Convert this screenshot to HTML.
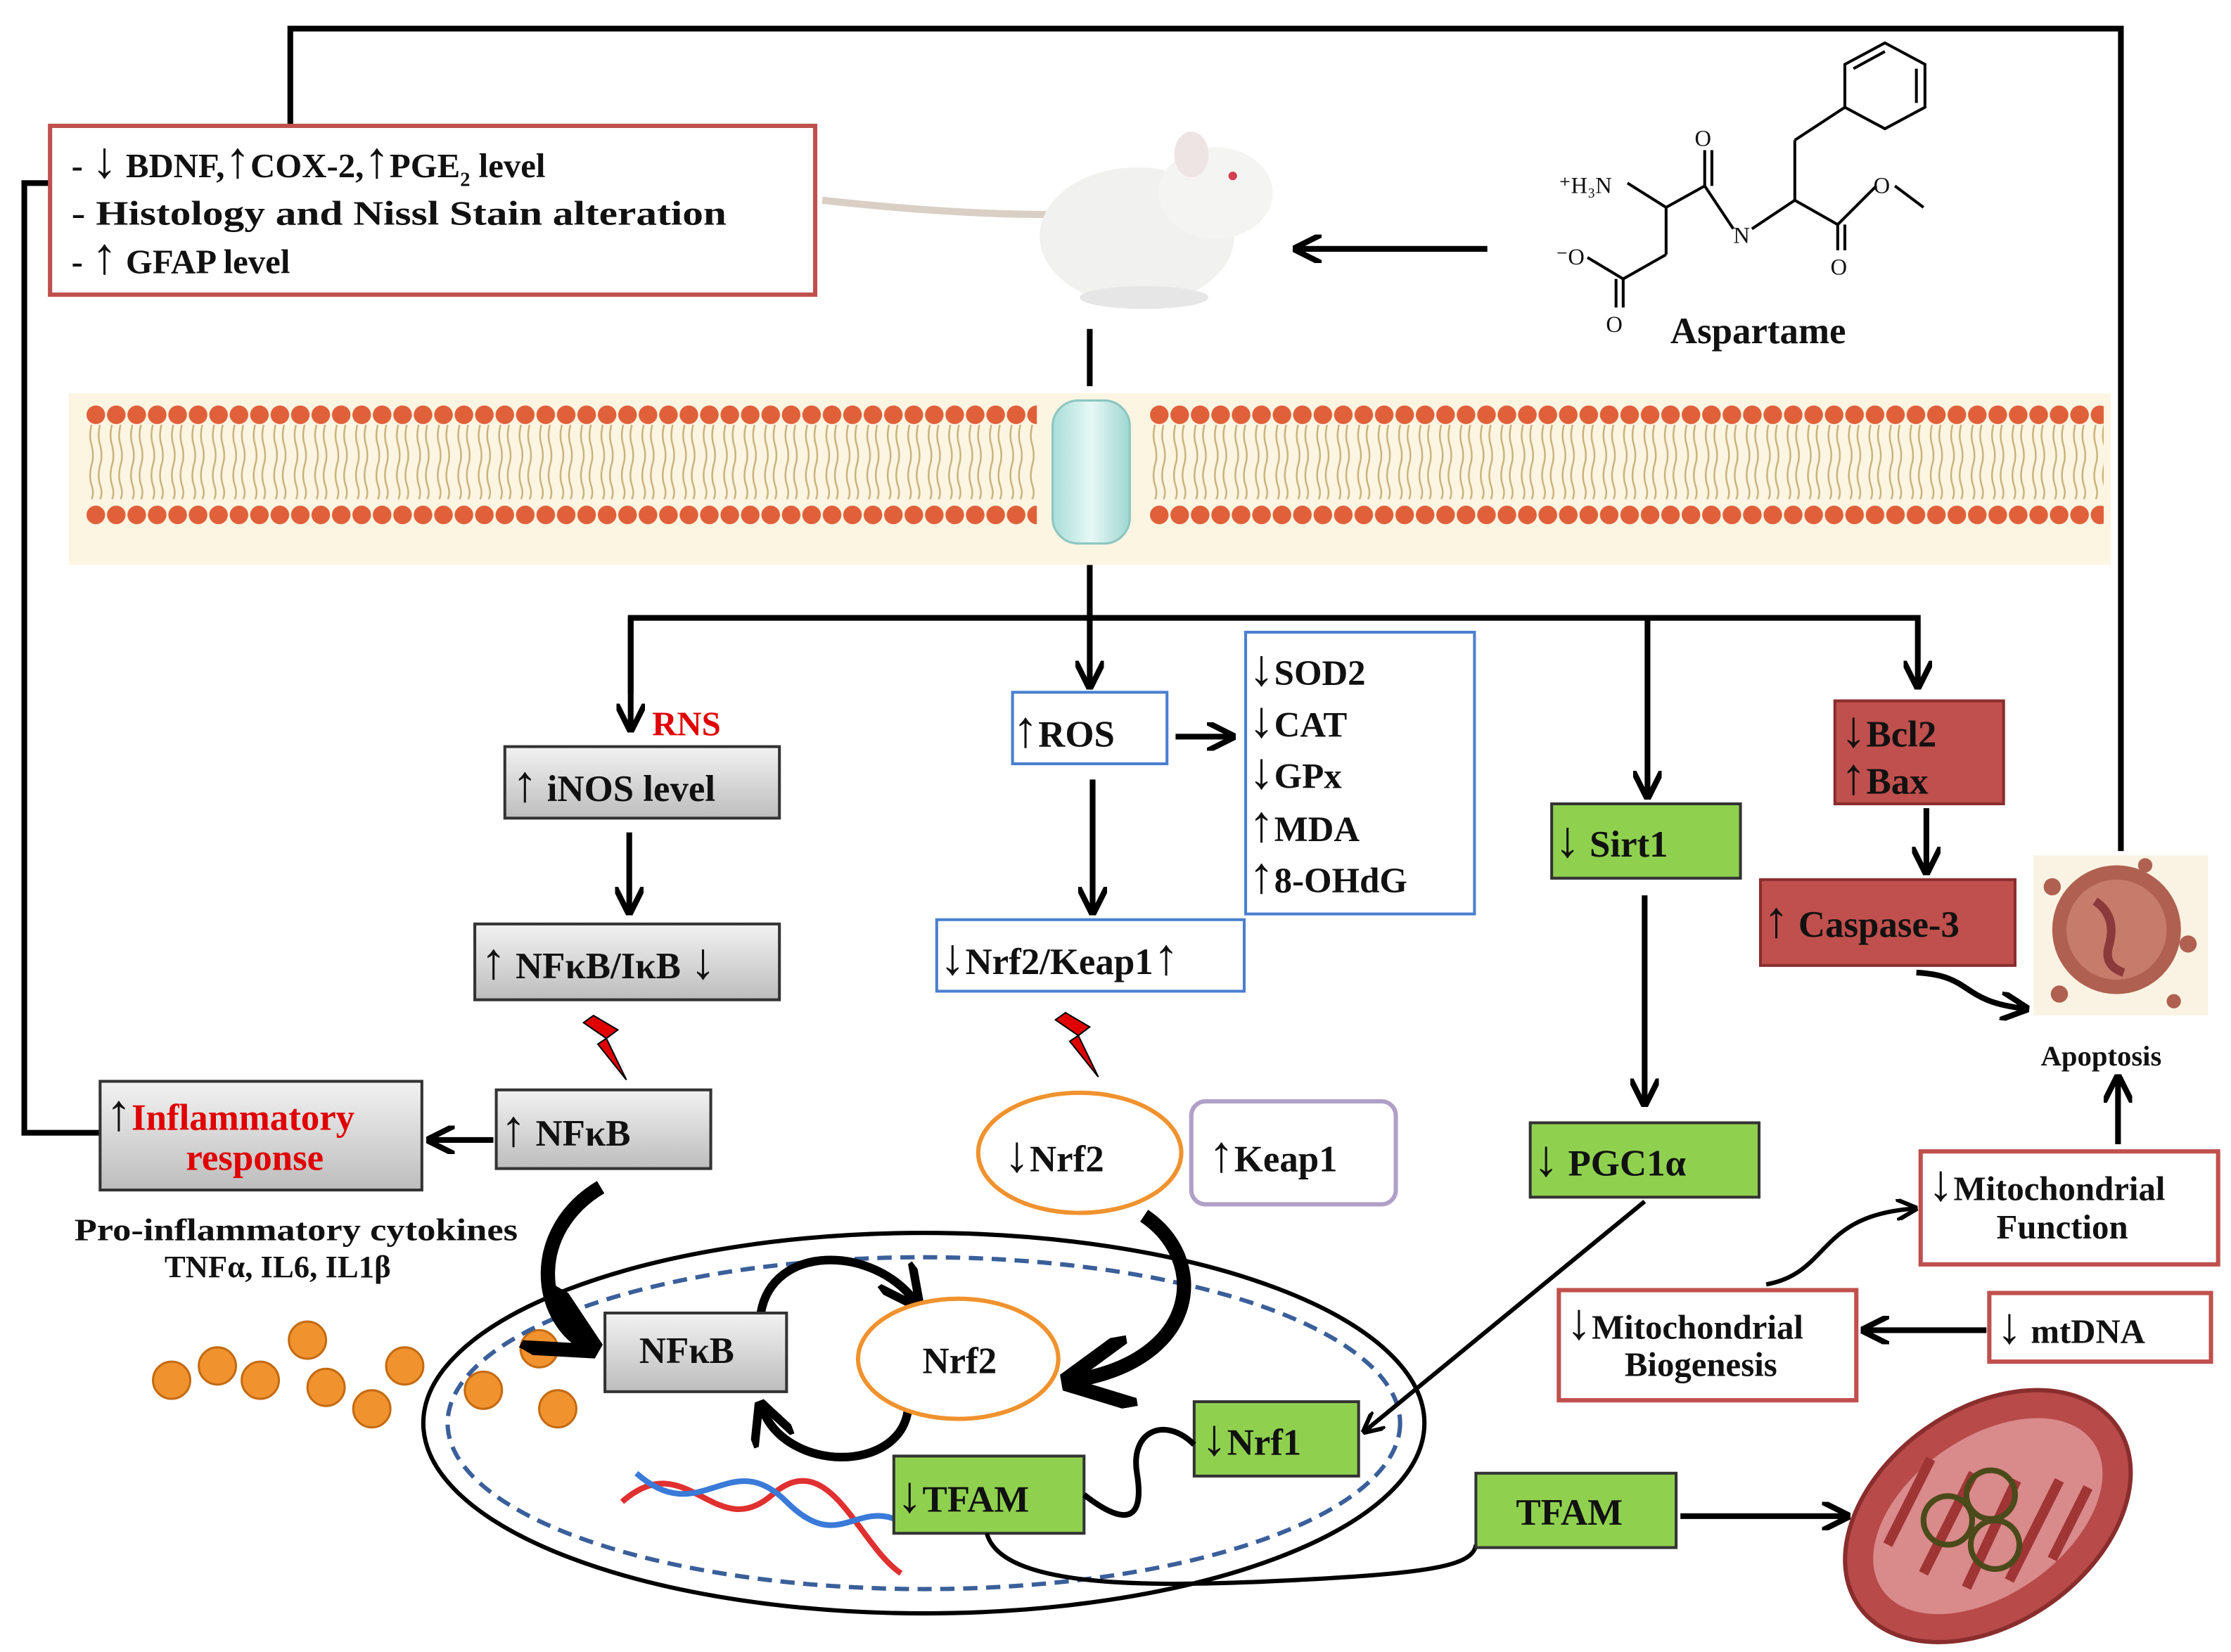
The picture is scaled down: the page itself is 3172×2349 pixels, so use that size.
<!DOCTYPE html>
<html><head><meta charset="utf-8"><style>
html,body{margin:0;padding:0;background:#fff}
svg{display:block}
text{font-family:"Liberation Serif",serif;font-weight:bold;fill:#111}
.a{font-size:36px;font-weight:normal}
</style></head><body>
<svg width="3172" height="2349" viewBox="0 0 1560 1155" preserveAspectRatio="none" xmlns="http://www.w3.org/2000/svg">
<defs>
<marker id="ah" viewBox="0 0 10 10" refX="8" refY="5" markerWidth="5" markerHeight="5" orient="auto"><path d="M0,0 L10,5 L0,10" fill="none" stroke="#000" stroke-width="2"/></marker>
<linearGradient id="gray" x1="0" y1="0" x2="0" y2="1"><stop offset="0" stop-color="#f2f2f2"/><stop offset="1" stop-color="#bdbdbd"/></linearGradient>
<linearGradient id="chan" x1="0" y1="0" x2="1" y2="0"><stop offset="0" stop-color="#a8ddd8"/><stop offset="0.5" stop-color="#e6f8f6"/><stop offset="1" stop-color="#9fd6d1"/></linearGradient>
<pattern id="heads" x="60" y="280" width="14.3" height="90" patternUnits="userSpaceOnUse">
<circle cx="7" cy="10" r="6.5" fill="#e0603a"/>
<path d="M4,17 q-2,8 0,14 q2,8 0,14 q-2,8 0,14 q2,6 0,10 M10,17 q-2,8 0,14 q2,8 0,14 q-2,8 0,14 q2,6 0,10" stroke="#c8b27a" stroke-width="1.2" fill="none"/>
<circle cx="7" cy="80" r="6.5" fill="#e0603a"/>
</pattern>
</defs>

<polyline points="203,88 203,20 1483,20 1483,595" fill="none" stroke="#000" stroke-width="4"/>
<polyline points="35,128 17,128 17,792 70,792" fill="none" stroke="#000" stroke-width="4"/>

<rect x="35" y="88" width="535" height="118" fill="#fff" stroke="#c0504d" stroke-width="3"/>
<text x="50" y="124" font-size="24">-  <tspan class="a">↓</tspan> BDNF,<tspan class="a">↑</tspan>COX-2,<tspan class="a">↑</tspan>PGE<tspan font-size="14" dy="6">2</tspan><tspan dy="-6"> level</tspan></text>
<text x="50" y="157" font-size="24" textLength="458" lengthAdjust="spacingAndGlyphs">-  Histology and Nissl Stain alteration</text>
<text x="50" y="191" font-size="24">-  <tspan class="a">↑</tspan> GFAP level</text>

<path d="M575,140 C620,145 680,150 735,150" stroke="#d9cfc4" stroke-width="5" fill="none"/>
<ellipse cx="795" cy="165" rx="68" ry="48" fill="#f1f1ef"/>
<ellipse cx="850" cy="135" rx="40" ry="32" fill="#f4f4f2"/>
<ellipse cx="833" cy="108" rx="12" ry="16" fill="#efe4e4"/>
<circle cx="862" cy="123" r="3" fill="#d04050"/>
<ellipse cx="800" cy="208" rx="45" ry="8" fill="#e6e6e6"/>

<line x1="1040" y1="174" x2="908" y2="174" stroke="#000" stroke-width="4" marker-end="url(#ah)"/>

<g stroke="#000" stroke-width="2" fill="none">
<polygon points="1290,45 1318,30 1346,45 1346,75 1318,90 1290,75"/>
<line x1="1296" y1="48" x2="1318" y2="36"/><line x1="1340" y1="48" x2="1340" y2="72"/>
<line x1="1290" y1="75" x2="1255" y2="98"/><line x1="1255" y1="98" x2="1255" y2="140"/>
<line x1="1255" y1="140" x2="1225" y2="160"/><line x1="1255" y1="140" x2="1285" y2="157"/>
<line x1="1285" y1="157" x2="1285" y2="175"/><line x1="1290" y1="157" x2="1290" y2="175"/>
<line x1="1285" y1="157" x2="1312" y2="130"/><line x1="1325" y1="130" x2="1345" y2="145"/>
<line x1="1212" y1="160" x2="1192" y2="130"/><line x1="1192" y1="130" x2="1192" y2="105"/><line x1="1197" y1="130" x2="1197" y2="105"/>
<line x1="1192" y1="130" x2="1165" y2="145"/><line x1="1165" y1="145" x2="1138" y2="128"/>
<line x1="1165" y1="145" x2="1165" y2="178"/><line x1="1165" y1="178" x2="1135" y2="195"/>
<line x1="1135" y1="195" x2="1110" y2="180"/><line x1="1135" y1="195" x2="1135" y2="215"/><line x1="1130" y1="195" x2="1130" y2="215"/>
</g>
<text x="1090" y="135" font-size="16" style="font-weight:normal">⁺H₃N</text>
<text x="1310" y="135" font-size="16" style="font-weight:normal">O</text>
<text x="1185" y="102" font-size="16" style="font-weight:normal">O</text>
<text x="1280" y="192" font-size="16" style="font-weight:normal">O</text>
<text x="1212" y="170" font-size="16" style="font-weight:normal">N</text>
<text x="1088" y="185" font-size="16" style="font-weight:normal">⁻O</text>
<text x="1123" y="232" font-size="16" style="font-weight:normal">O</text>
<text x="1168" y="240" font-size="26">Aspartame</text>

<rect x="48" y="275" width="1428" height="120" fill="#fbf5e2"/>
<rect x="60" y="280" width="665" height="90" fill="url(#heads)"/>
<rect x="803" y="280" width="668" height="90" fill="url(#heads)"/>
<rect x="736" y="280" width="54" height="100" rx="18" fill="url(#chan)" stroke="#8cc6c0" stroke-width="1.5"/>
<line x1="762" y1="230" x2="762" y2="270" stroke="#000" stroke-width="4"/>

<line x1="762" y1="395" x2="762" y2="478" stroke="#000" stroke-width="4" marker-end="url(#ah)"/>
<polyline points="441,485 441,432 1341,432 1341,478" fill="none" stroke="#000" stroke-width="4" marker-end="url(#ah)"/>
<line x1="441" y1="432" x2="441" y2="508" stroke="#000" stroke-width="4" marker-end="url(#ah)"/>
<line x1="1152" y1="432" x2="1152" y2="555" stroke="#000" stroke-width="4" marker-end="url(#ah)"/>

<text x="456" y="514" font-size="24" style="fill:#e00000">RNS</text>
<rect x="353" y="522" width="192" height="50" fill="url(#gray)" stroke="#333" stroke-width="2"/>
<text x="358" y="560" font-size="26"><tspan class="a">↑</tspan> iNOS level</text>
<line x1="440" y1="582" x2="440" y2="636" stroke="#000" stroke-width="4" marker-end="url(#ah)"/>
<rect x="332" y="646" width="213" height="53" fill="url(#gray)" stroke="#333" stroke-width="2"/>
<text x="336" y="684" font-size="26"><tspan class="a">↑</tspan> NFκB/IκB <tspan class="a">↓</tspan></text>
<polygon points="415,710 432,720 424,726 438,755 418,730 424,726 408,715" fill="#e00000" stroke="#000" stroke-width="1"/>
<rect x="347" y="762" width="150" height="55" fill="url(#gray)" stroke="#333" stroke-width="2"/>
<text x="350" y="801" font-size="26"><tspan class="a">↑</tspan> NFκB</text>
<line x1="345" y1="797" x2="302" y2="797" stroke="#000" stroke-width="4" marker-end="url(#ah)"/>
<rect x="70" y="756" width="225" height="76" fill="url(#gray)" stroke="#333" stroke-width="2"/>
<text x="74" y="790" font-size="26"><tspan class="a">↑</tspan><tspan style="fill:#e00000">Inflammatory</tspan></text>
<text x="130" y="818" font-size="26" style="fill:#e00000">response</text>
<text x="52" y="867" font-size="22" textLength="310" lengthAdjust="spacingAndGlyphs">Pro-inflammatory  cytokines</text>
<text x="115" y="893" font-size="22">TNFα, IL6, IL1β</text>

<g fill="#f0922e" stroke="#c46a10" stroke-width="1.5">
<circle cx="120" cy="965" r="13"/><circle cx="152" cy="955" r="13"/><circle cx="182" cy="965" r="13"/><circle cx="215" cy="937" r="13"/>
<circle cx="228" cy="970" r="13"/><circle cx="260" cy="985" r="13"/><circle cx="283" cy="955" r="13"/><circle cx="338" cy="972" r="13"/>
<circle cx="377" cy="943" r="13"/><circle cx="390" cy="985" r="13"/>
</g>

<ellipse cx="646" cy="995" rx="350" ry="133" fill="none" stroke="#000" stroke-width="3"/>
<ellipse cx="646" cy="995" rx="333" ry="116" fill="none" stroke="#3a5f9a" stroke-width="3" stroke-dasharray="10,6"/>

<path d="M420,830 C370,860 375,920 410,940" fill="none" stroke="#000" stroke-width="10" marker-end="url(#ah)"/>
<path d="M800,850 C845,880 840,950 752,965" fill="none" stroke="#000" stroke-width="10" marker-end="url(#ah)"/>
<path d="M532,918 C540,870 610,870 640,910" fill="none" stroke="#000" stroke-width="6" marker-end="url(#ah)"/>
<path d="M635,985 C630,1030 550,1030 533,985" fill="none" stroke="#000" stroke-width="6" marker-end="url(#ah)"/>

<rect x="423" y="918" width="127" height="55" fill="url(#gray)" stroke="#333" stroke-width="2"/>
<text x="447" y="953" font-size="26">NFκB</text>
<ellipse cx="670" cy="950" rx="70" ry="42" fill="#fff" stroke="#f0922e" stroke-width="3"/>
<text x="645" y="960" font-size="26">Nrf2</text>

<g stroke-width="4" fill="none">
<path d="M435,1050 C480,1010 500,1080 540,1045 C580,1010 600,1080 630,1100" stroke="#e03030"/>
<path d="M445,1030 C490,1070 510,1010 550,1050 C590,1090 600,1040 640,1070" stroke="#3a7ad8"/>
</g>

<rect x="708" y="484" width="108" height="50" fill="#fff" stroke="#4a7fd0" stroke-width="2"/>
<text x="708" y="522" font-size="26"><tspan class="a">↑</tspan>ROS</text>
<line x1="822" y1="515" x2="860" y2="515" stroke="#000" stroke-width="4" marker-end="url(#ah)"/>
<rect x="871" y="442" width="160" height="197" fill="#fff" stroke="#4a7fd0" stroke-width="2"/>
<text x="873" y="479" font-size="25"><tspan class="a">↓</tspan>SOD2</text>
<text x="873" y="515" font-size="25"><tspan class="a">↓</tspan>CAT</text>
<text x="873" y="551" font-size="25"><tspan class="a">↓</tspan>GPx</text>
<text x="873" y="588" font-size="25"><tspan class="a">↑</tspan>MDA</text>
<text x="873" y="624" font-size="25"><tspan class="a">↑</tspan>8-OHdG</text>
<line x1="764" y1="545" x2="764" y2="636" stroke="#000" stroke-width="4" marker-end="url(#ah)"/>
<rect x="655" y="643" width="215" height="50" fill="#fff" stroke="#4a7fd0" stroke-width="2"/>
<text x="657" y="681" font-size="26"><tspan class="a">↓</tspan>Nrf2/Keap1<tspan class="a">↑</tspan></text>
<polygon points="745,708 762,718 754,724 768,753 748,728 754,724 738,713" fill="#e00000" stroke="#000" stroke-width="1"/>
<ellipse cx="755" cy="806" rx="71" ry="42" fill="#fff" stroke="#f0922e" stroke-width="3"/>
<text x="702" y="819" font-size="26"><tspan class="a">↓</tspan>Nrf2</text>
<rect x="833" y="770" width="143" height="72" rx="10" fill="#fff" stroke="#b0a0c8" stroke-width="3"/>
<text x="845" y="819" font-size="26"><tspan class="a">↑</tspan>Keap1</text>

<rect x="1085" y="562" width="132" height="52" fill="#8fd14f" stroke="#333" stroke-width="2"/>
<text x="1087" y="599" font-size="26"><tspan class="a">↓</tspan> Sirt1</text>
<line x1="1150" y1="626" x2="1150" y2="770" stroke="#000" stroke-width="4" marker-end="url(#ah)"/>
<rect x="1070" y="785" width="160" height="52" fill="#8fd14f" stroke="#333" stroke-width="2"/>
<text x="1072" y="822" font-size="26"><tspan class="a">↓</tspan> PGC1α</text>
<line x1="1150" y1="840" x2="955" y2="1000" stroke="#000" stroke-width="3" marker-end="url(#ah)"/>

<rect x="835" y="980" width="115" height="52" fill="#8fd14f" stroke="#333" stroke-width="2"/>
<text x="840" y="1017" font-size="26"><tspan class="a">↓</tspan>Nrf1</text>
<rect x="625" y="1018" width="133" height="54" fill="#8fd14f" stroke="#333" stroke-width="2"/>
<text x="627" y="1057" font-size="26"><tspan class="a">↓</tspan>TFAM</text>
<path d="M758,1045 C790,1070 800,1060 795,1030 C790,1000 815,990 835,1010" fill="none" stroke="#000" stroke-width="4"/>
<path d="M690,1072 C700,1110 800,1110 900,1105 C1000,1100 1030,1095 1032,1080" fill="none" stroke="#000" stroke-width="3"/>
<rect x="1032" y="1030" width="140" height="52" fill="#8fd14f" stroke="#333" stroke-width="2"/>
<text x="1060" y="1066" font-size="26">TFAM</text>
<line x1="1175" y1="1060" x2="1290" y2="1060" stroke="#000" stroke-width="4" marker-end="url(#ah)"/>

<ellipse cx="1390" cy="1060" rx="110" ry="75" transform="rotate(-35 1390 1060)" fill="#b84a4a" stroke="#8a2d2d" stroke-width="3"/>
<ellipse cx="1390" cy="1060" rx="90" ry="55" transform="rotate(-35 1390 1060)" fill="#d98a8a"/>
<g stroke="#a03535" stroke-width="7" fill="none">
<path d="M1320,1080 l30,-60 M1345,1100 l35,-70 M1375,1110 l35,-75 M1405,1105 l35,-70 M1435,1090 l25,-50"/>
</g>
<g fill="none" stroke="#4a4a1a" stroke-width="4">
<circle cx="1362" cy="1063" r="17"/><circle cx="1392" cy="1045" r="17"/><circle cx="1395" cy="1080" r="17"/>
</g>

<rect x="1283" y="490" width="118" height="72" fill="#c0504d" stroke="#8a2d2d" stroke-width="2"/>
<text x="1287" y="522" font-size="26"><tspan class="a">↓</tspan>Bcl2</text>
<text x="1287" y="555" font-size="26"><tspan class="a">↑</tspan>Bax</text>
<line x1="1347" y1="565" x2="1347" y2="608" stroke="#000" stroke-width="4" marker-end="url(#ah)"/>
<rect x="1231" y="615" width="178" height="60" fill="#c0504d" stroke="#8a2d2d" stroke-width="2"/>
<text x="1233" y="655" font-size="26"><tspan class="a">↑</tspan> Caspase-3</text>
<path d="M1340,680 C1380,682 1370,700 1415,705" fill="none" stroke="#000" stroke-width="4" marker-end="url(#ah)"/>
<rect x="1422" y="598" width="122" height="112" fill="#faf3e3"/>
<circle cx="1480" cy="650" r="45" fill="#b06050"/>
<circle cx="1480" cy="650" r="35" fill="#c77b6a"/>
<path d="M1465,630 q15,10 10,30 q-5,15 10,20" stroke="#8a3a3a" stroke-width="6" fill="none"/>
<g fill="#b06050"><circle cx="1435" cy="620" r="6"/><circle cx="1530" cy="660" r="6"/><circle cx="1520" cy="700" r="5"/><circle cx="1440" cy="695" r="6"/><circle cx="1500" cy="605" r="5"/></g>
<text x="1427" y="745" font-size="20">Apoptosis</text>
<line x1="1481" y1="800" x2="1481" y2="755" stroke="#000" stroke-width="4" marker-end="url(#ah)"/>

<rect x="1343" y="805" width="208" height="79" fill="#fff" stroke="#c0504d" stroke-width="3"/>
<text x="1348" y="839" font-size="24"><tspan class="a">↓</tspan>Mitochondrial</text>
<text x="1396" y="866" font-size="24">Function</text>
<rect x="1090" y="902" width="208" height="77" fill="#fff" stroke="#c0504d" stroke-width="3"/>
<text x="1095" y="936" font-size="24"><tspan class="a">↓</tspan>Mitochondrial</text>
<text x="1136" y="962" font-size="24">Biogenesis</text>
<rect x="1391" y="904" width="155" height="48" fill="#fff" stroke="#c0504d" stroke-width="3"/>
<text x="1396" y="939" font-size="24"><tspan class="a">↓</tspan> mtDNA</text>
<line x1="1389" y1="930" x2="1305" y2="930" stroke="#000" stroke-width="4" marker-end="url(#ah)"/>
<path d="M1235,898 C1280,890 1270,850 1338,845" fill="none" stroke="#000" stroke-width="3" marker-end="url(#ah)"/>
</svg>
</body></html>
